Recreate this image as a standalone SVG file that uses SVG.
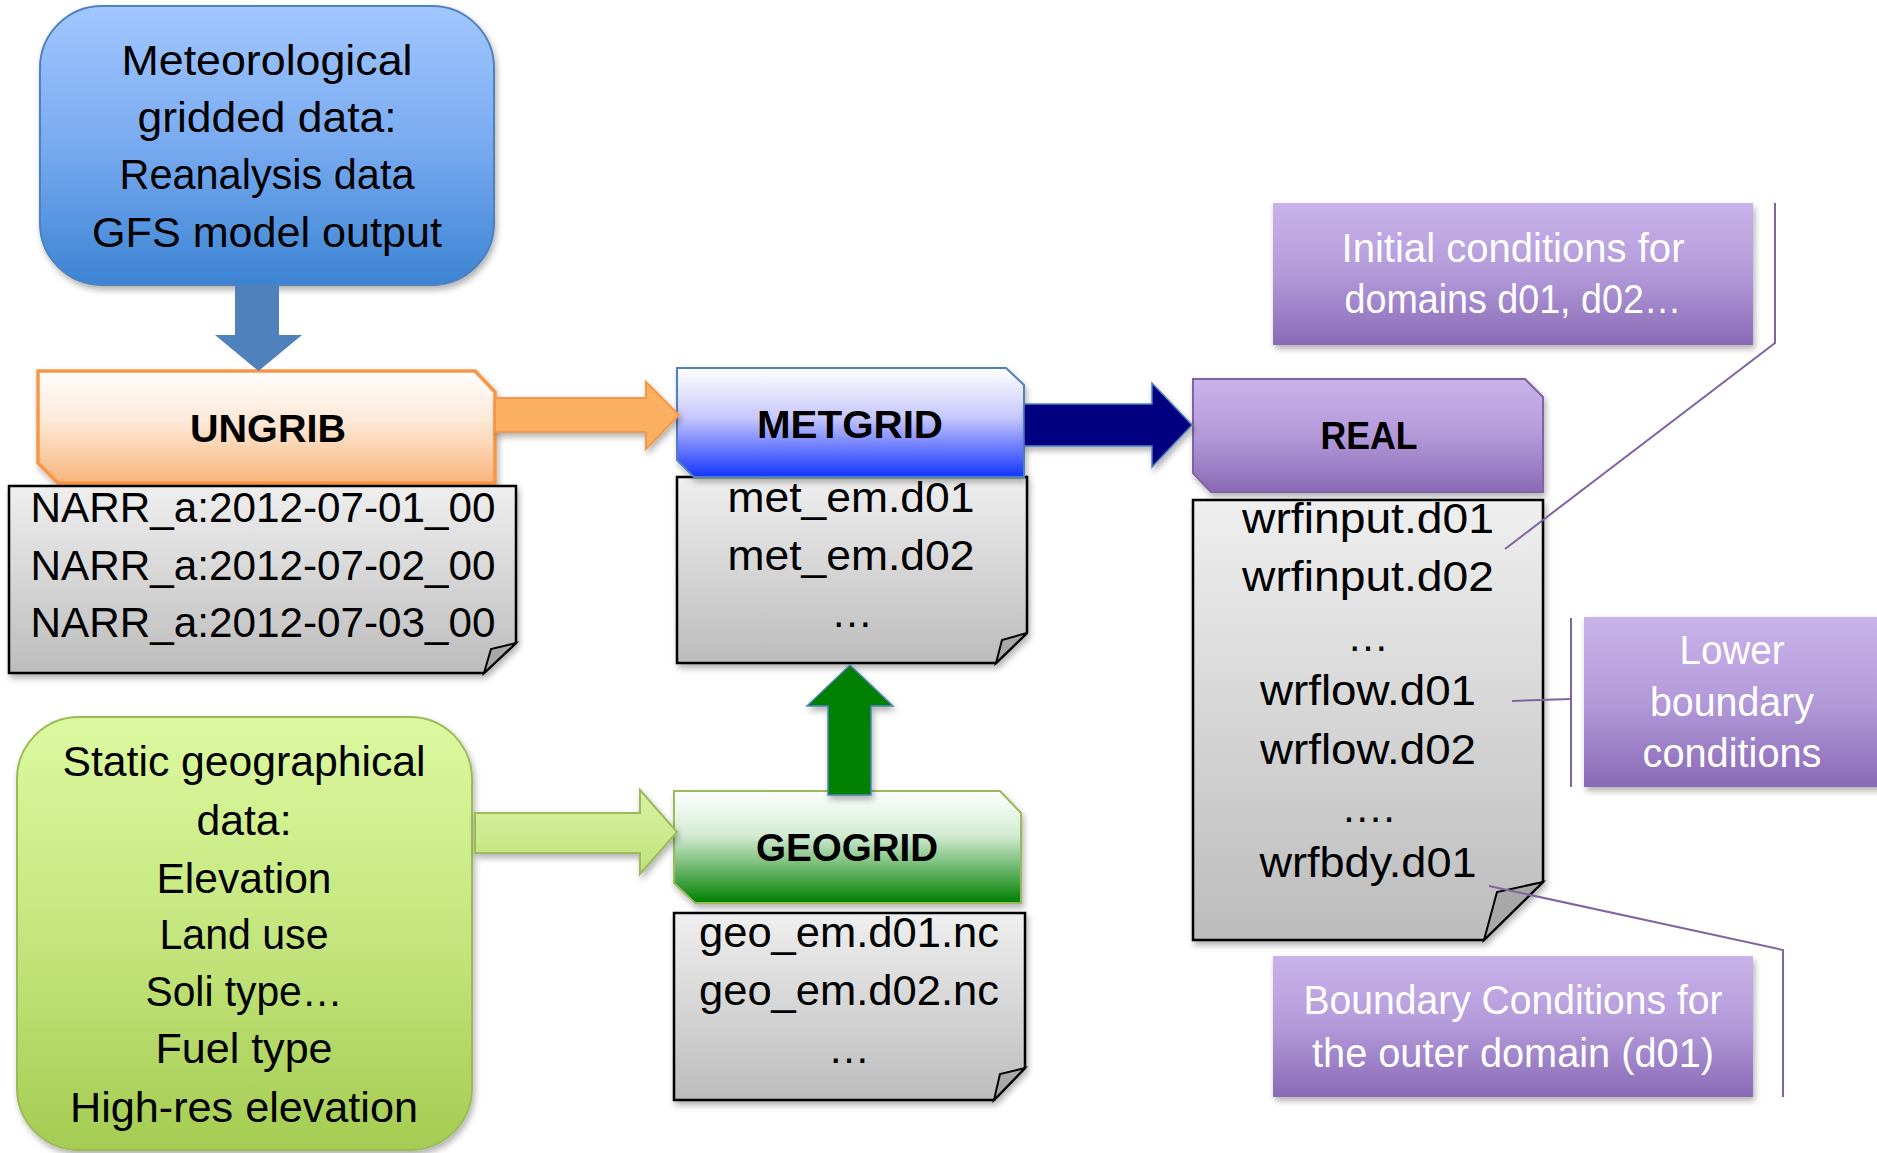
<svg xmlns="http://www.w3.org/2000/svg" width="1877" height="1153" viewBox="0 0 1877 1153">
<defs>
<linearGradient id="gBlue" x1="0" y1="0" x2="0" y2="1"><stop offset="0" stop-color="#a2c7ff"/><stop offset="0.5" stop-color="#78aaf0"/><stop offset="1" stop-color="#3c84d3"/></linearGradient>
<linearGradient id="gGreen" x1="0" y1="0" x2="0" y2="1"><stop offset="0" stop-color="#dcf9a0"/><stop offset="0.5" stop-color="#c5e67e"/><stop offset="1" stop-color="#a4cc52"/></linearGradient>
<linearGradient id="gOrange" x1="0" y1="0" x2="0" y2="1"><stop offset="0" stop-color="#fffefd"/><stop offset="0.45" stop-color="#fde9d7"/><stop offset="1" stop-color="#f9b47c"/></linearGradient>
<linearGradient id="gMet" x1="0" y1="0" x2="0" y2="1"><stop offset="0" stop-color="#ffffff"/><stop offset="0.45" stop-color="#c8c8fc"/><stop offset="1" stop-color="#1433ff"/></linearGradient>
<linearGradient id="gGeo" x1="0" y1="0" x2="0" y2="1"><stop offset="0" stop-color="#ffffff"/><stop offset="0.4" stop-color="#d2ebd2"/><stop offset="1" stop-color="#008000"/></linearGradient>
<linearGradient id="gPurple" x1="0" y1="0" x2="0" y2="1"><stop offset="0" stop-color="#c9b3ea"/><stop offset="0.5" stop-color="#b29ad9"/><stop offset="1" stop-color="#8a69b6"/></linearGradient>
<linearGradient id="gDoc" x1="0" y1="0" x2="0" y2="1"><stop offset="0" stop-color="#efefef"/><stop offset="1" stop-color="#bcbcbc"/></linearGradient>
<linearGradient id="gArrowG" x1="0" y1="0" x2="0" y2="1"><stop offset="0" stop-color="#d9f3a3"/><stop offset="1" stop-color="#bfe27a"/></linearGradient>
<filter id="sh" x="-10%" y="-10%" width="130%" height="130%"><feDropShadow dx="2" dy="4" stdDeviation="3" flood-color="#000" flood-opacity="0.3"/></filter>
</defs>
<style>
text{font-family:"Liberation Sans",Arial,sans-serif;text-anchor:middle;}
.t{font-size:42px;fill:#000;}
.d{font-size:43px;fill:#000;}
.b{font-size:39px;font-weight:bold;fill:#000;}
.w{font-size:40px;fill:#fff;}
.doc{fill:url(#gDoc);stroke:#000;stroke-width:2.5;filter:url(#sh);}
.fold{fill:#a8a8a8;stroke:#000;stroke-width:2;}
.call{fill:none;stroke:#8064a2;stroke-width:2;}
.pbox{fill:url(#gPurple);filter:url(#sh);}
</style>

<g id="met-data">
<rect x="40" y="6" width="454" height="279" rx="62" fill="url(#gBlue)" stroke="#4f81bd" stroke-width="2" filter="url(#sh)"/>
<text class="d" x="267" y="75" textLength="291" lengthAdjust="spacingAndGlyphs">Meteorological</text>
<text class="d" x="267" y="132" textLength="259" lengthAdjust="spacingAndGlyphs">gridded data:</text>
<text class="d" x="267" y="189" textLength="295" lengthAdjust="spacingAndGlyphs">Reanalysis data</text>
<text class="d" x="267" y="247" textLength="350" lengthAdjust="spacingAndGlyphs">GFS model output</text>
</g>

<g id="ungrib">
<path d="M38,371 H475 L495,392 V483 H58 L38,463 Z" fill="url(#gOrange)" stroke="#f79646" stroke-width="3.5" filter="url(#sh)"/>
<text class="b" x="268" y="442" textLength="156" lengthAdjust="spacingAndGlyphs">UNGRIB</text>
</g>

<g id="ungrib-files">
<path class="doc" d="M9,486 H516 V643 L484,673 H9 Z"/>
<path class="fold" d="M516,643 L491,649 L484,673 Z"/>
<text class="t" x="263" y="522" textLength="465" lengthAdjust="spacingAndGlyphs">NARR_a:2012-07-01_00</text>
<text class="t" x="263" y="580" textLength="465" lengthAdjust="spacingAndGlyphs">NARR_a:2012-07-02_00</text>
<text class="t" x="263" y="637" textLength="465" lengthAdjust="spacingAndGlyphs">NARR_a:2012-07-03_00</text>
</g>

<g id="metgrid-files">
<path class="doc" d="M677,477 H1027 V633 L996,663 H677 Z"/>
<path class="fold" d="M1027,633 L1002,640 L996,663 Z"/>
<text class="t" x="851" y="512" textLength="247" lengthAdjust="spacingAndGlyphs">met_em.d01</text>
<text class="t" x="851" y="570" textLength="247" lengthAdjust="spacingAndGlyphs">met_em.d02</text>
<text class="t" x="852" y="627">…</text>
</g>

<g id="metgrid">
<path d="M677,368 H1006 L1024,385 V477 H694 L677,460 Z" fill="url(#gMet)" stroke="#4f81bd" stroke-width="2" filter="url(#sh)"/>
<text class="b" x="850" y="438" textLength="186" lengthAdjust="spacingAndGlyphs">METGRID</text>
</g>

<g id="real">
<path d="M1193,379 H1525 L1543,397 V492 H1211 L1193,473 Z" fill="url(#gPurple)" stroke="#8064a2" stroke-width="2" filter="url(#sh)"/>
<text class="b" x="1369" y="449" textLength="97" lengthAdjust="spacingAndGlyphs">REAL</text>
</g>

<g id="real-files">
<path class="doc" d="M1193,500 H1543 V882 L1484,940 H1193 Z"/>
<path class="fold" d="M1543,882 L1497,892 L1484,940 Z"/>
<text class="t" x="1368" y="533" textLength="252" lengthAdjust="spacingAndGlyphs">wrfinput.d01</text>
<text class="t" x="1368" y="591" textLength="252" lengthAdjust="spacingAndGlyphs">wrfinput.d02</text>
<text class="t" x="1368" y="651">…</text>
<text class="t" x="1368" y="705" textLength="216" lengthAdjust="spacingAndGlyphs">wrflow.d01</text>
<text class="t" x="1368" y="764" textLength="216" lengthAdjust="spacingAndGlyphs">wrflow.d02</text>
<text class="t" x="1368" y="822">….</text>
<text class="t" x="1368" y="877" textLength="217" lengthAdjust="spacingAndGlyphs">wrfbdy.d01</text>
</g>

<g id="initial-conditions">
<rect class="pbox" x="1273" y="203" width="480" height="142"/>
<text class="w" x="1513" y="262" textLength="343" lengthAdjust="spacingAndGlyphs">Initial conditions for</text>
<text class="w" x="1513" y="313" textLength="337" lengthAdjust="spacingAndGlyphs">domains d01, d02…</text>
</g>

<g id="lower-boundary">
<rect class="pbox" x="1584" y="617" width="300" height="170"/>
<text class="w" x="1732" y="664" textLength="105" lengthAdjust="spacingAndGlyphs">Lower</text>
<text class="w" x="1732" y="716" textLength="164" lengthAdjust="spacingAndGlyphs">boundary</text>
<text class="w" x="1732" y="767" textLength="179" lengthAdjust="spacingAndGlyphs">conditions</text>
</g>

<g id="boundary-conditions">
<rect class="pbox" x="1273" y="956" width="480" height="141"/>
<text class="w" x="1513" y="1014" textLength="419" lengthAdjust="spacingAndGlyphs">Boundary Conditions for</text>
<text class="w" x="1513" y="1067" textLength="402" lengthAdjust="spacingAndGlyphs">the outer domain (d01)</text>
</g>

<g id="static-data">
<rect x="17" y="717" width="455" height="433" rx="62" fill="url(#gGreen)" stroke="#9bbb59" stroke-width="2" filter="url(#sh)"/>
<text class="t" x="244" y="776" textLength="363" lengthAdjust="spacingAndGlyphs">Static geographical</text>
<text class="t" x="244" y="835" textLength="95" lengthAdjust="spacingAndGlyphs">data:</text>
<text class="t" x="244" y="893" textLength="175" lengthAdjust="spacingAndGlyphs">Elevation</text>
<text class="t" x="244" y="949" textLength="169" lengthAdjust="spacingAndGlyphs">Land use</text>
<text class="t" x="244" y="1006" textLength="197" lengthAdjust="spacingAndGlyphs">Soli type…</text>
<text class="t" x="244" y="1063" textLength="177" lengthAdjust="spacingAndGlyphs">Fuel type</text>
<text class="t" x="244" y="1122" textLength="348" lengthAdjust="spacingAndGlyphs">High-res elevation</text>
</g>

<g id="geogrid">
<path d="M674,791 H1000 L1021,813 V903 H695 L674,883 Z" fill="url(#gGeo)" stroke="#9bbb59" stroke-width="2" filter="url(#sh)"/>
<text class="b" x="847" y="861" textLength="182" lengthAdjust="spacingAndGlyphs">GEOGRID</text>
</g>

<g id="geogrid-files">
<path class="doc" d="M674,913 H1025 V1068 L994,1100 H674 Z"/>
<path class="fold" d="M1025,1068 L1000,1074 L994,1100 Z"/>
<text class="t" x="849" y="947" textLength="300" lengthAdjust="spacingAndGlyphs">geo_em.d01.nc</text>
<text class="t" x="849" y="1005" textLength="300" lengthAdjust="spacingAndGlyphs">geo_em.d02.nc</text>
<text class="t" x="849" y="1063">…</text>
</g>

<g id="connectors">
<polygon points="235,285 279,285 279,335 302,335 258.5,371 215,335 235,335" fill="#4f81bd"/>
<polygon points="495,398 646,398 646,382 679,415 646,449 646,432 495,432" fill="#fbb062" stroke="#f79646" stroke-width="2" filter="url(#sh)"/>
<polygon points="1024,404 1152,404 1152,383 1192,425 1152,467 1152,446 1024,446" fill="#000080" stroke="#4f81bd" stroke-width="1.5" filter="url(#sh)"/>
<polygon points="475,813 640,813 640,790 677,832 640,874 640,853 475,853" fill="url(#gArrowG)" stroke="#9bbb59" stroke-width="2" filter="url(#sh)"/>
<polygon points="828,795 828,706 807,706 850,665 893,706 871,706 871,795" fill="#008000" stroke="#4f81bd" stroke-width="1.5" filter="url(#sh)"/>
<polyline class="call" points="1775,203 1775,343 1505,549"/>
<polyline class="call" points="1571,618 1571,787"/>
<polyline class="call" points="1512,701 1571,699"/>
<polyline class="call" points="1489,886 1783,950 1783,1097"/>
</g>
</svg>
